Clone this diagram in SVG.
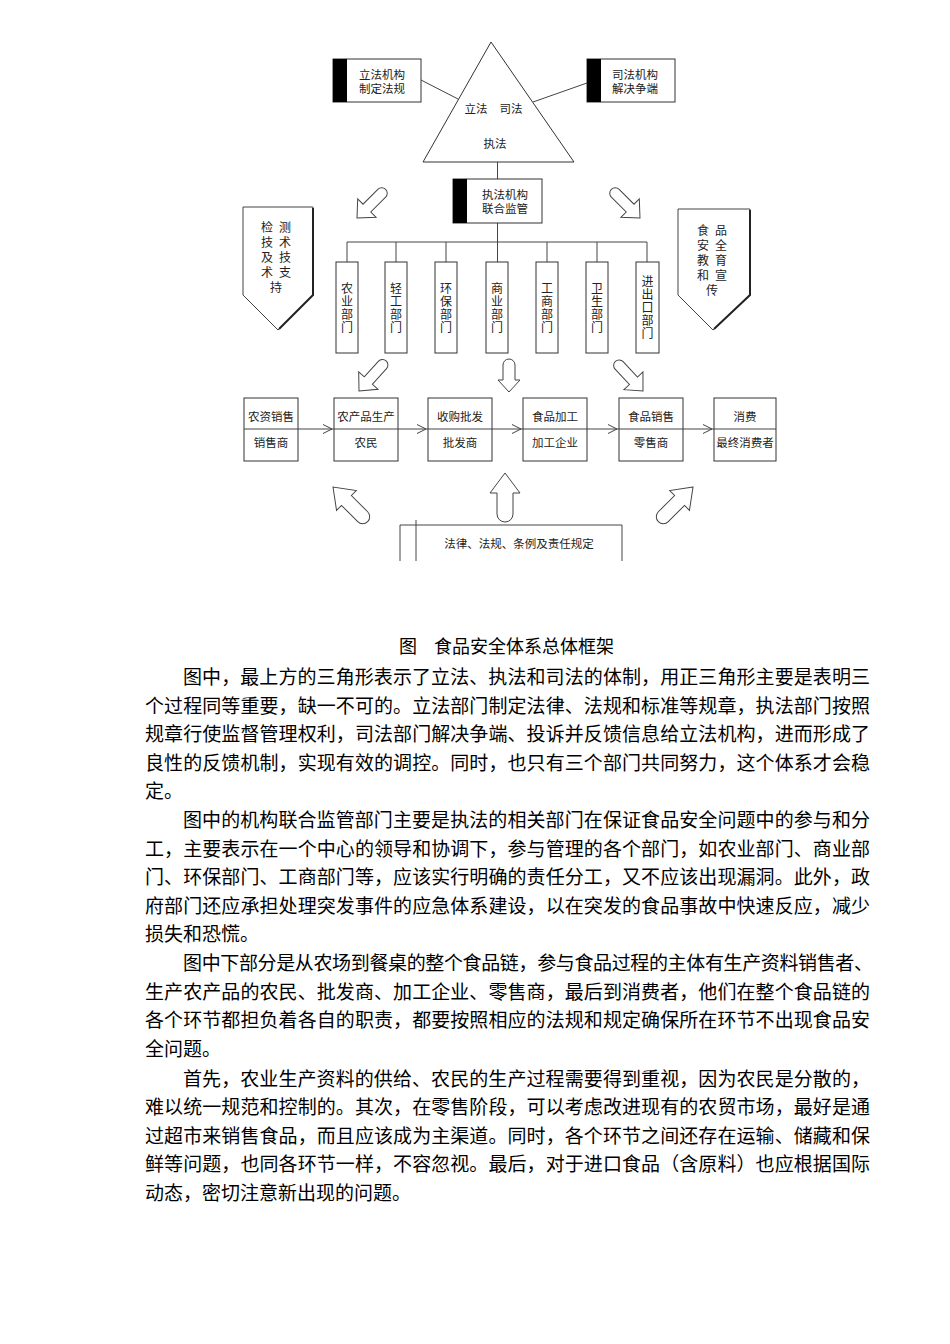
<svg xmlns="http://www.w3.org/2000/svg" width="950" height="1344" viewBox="0 0 950 1344">
<style>
.ln{stroke:#444;stroke-width:1;fill:none}
.box{fill:#fff;stroke:#333;stroke-width:1}
.bar{fill:#000}
.sh{stroke:#222;stroke-width:2;fill:none}
.arr{fill:#fff;stroke:#444;stroke-width:1}
.t{font-family:"Noto Sans CJK SC","Noto Sans CJK JP",sans-serif;font-size:11.5px;fill:#222;text-anchor:middle;dominant-baseline:central}
.tv{font-family:"Noto Sans CJK SC","Noto Sans CJK JP",sans-serif;font-size:12px;fill:#222;text-anchor:middle;dominant-baseline:central}
.vt{font-family:"Noto Sans CJK SC","Noto Sans CJK JP",sans-serif;font-size:12px;fill:#222;text-anchor:middle;writing-mode:vertical-rl;letter-spacing:1px}
.cap{font-family:"Noto Sans CJK SC","Noto Sans CJK JP",sans-serif;font-size:18px;fill:#000;dominant-baseline:central}
.b{font-family:"Noto Sans CJK SC","Noto Sans CJK JP",sans-serif;font-size:19px;fill:#000;dominant-baseline:central}
</style>
<defs>
<path id="aS" d="M0,0 L-14,-13 L-14,-5.5 L-35,-5.5 A5.5,5.5 0 0 0 -35,5.5 L-14,5.5 L-14,13 Z"/>
<path id="aM" d="M0,0 L-12,-11 L-12,-6 L-27,-6 A6,6 0 0 0 -27,6 L-12,6 L-12,11 Z"/>
<path id="aL" d="M0,0 L-20,-15 L-20,-8 L-41,-8 A8,8 0 0 0 -41,8 L-20,8 L-20,15 Z"/>
<path id="aB" d="M0,0 L-19,-14 L-19,-7 L-42,-7 A7,7 0 0 0 -42,7 L-19,7 L-19,14 Z"/>
<path id="chev" d="M-11,-4.5 L-2,0 L-11,4.5"/>
</defs>
<rect width="950" height="1344" fill="#fff"/>

<g id="connectors">
<line class="ln" x1="421" y1="80" x2="458" y2="99"/>
<line class="ln" x1="533" y1="102" x2="587" y2="83"/>
<line class="ln" x1="497.5" y1="162" x2="497.5" y2="179"/>
<line class="ln" x1="497.5" y1="223" x2="497.5" y2="262"/>
<line class="ln" x1="347" y1="242" x2="647" y2="242"/>
<line class="ln" x1="347" y1="242" x2="347" y2="262"/>
<line class="ln" x1="396" y1="242" x2="396" y2="262"/>
<line class="ln" x1="446" y1="242" x2="446" y2="262"/>
<line class="ln" x1="547" y1="242" x2="547" y2="262"/>
<line class="ln" x1="597" y1="242" x2="597" y2="262"/>
<line class="ln" x1="647" y1="242" x2="647" y2="262"/>
<line class="ln" x1="298" y1="429" x2="334" y2="429"/>
<line class="ln" x1="398" y1="429" x2="428" y2="429"/>
<line class="ln" x1="492" y1="429" x2="523" y2="429"/>
<line class="ln" x1="587" y1="429" x2="619" y2="429"/>
<line class="ln" x1="683" y1="429" x2="714" y2="429"/>
<use href="#chev" class="ln" transform="translate(334,429)"/>
<use href="#chev" class="ln" transform="translate(428,429)"/>
<use href="#chev" class="ln" transform="translate(523,429)"/>
<use href="#chev" class="ln" transform="translate(619,429)"/>
<use href="#chev" class="ln" transform="translate(714,429)"/>
<use href="#aS" class="arr" transform="translate(357,218) rotate(135)"/>
<use href="#aS" class="arr" transform="translate(640,218) rotate(45)"/>
<use href="#aS" class="arr" transform="translate(359,391) rotate(132)"/>
<use href="#aM" class="arr" transform="translate(509,392) rotate(90)"/>
<use href="#aS" class="arr" transform="translate(643,391) rotate(47)"/>
<use href="#aB" class="arr" transform="translate(333,487) rotate(-135)"/>
<use href="#aL" class="arr" transform="translate(505,473) rotate(-90)"/>
<use href="#aB" class="arr" transform="translate(693,487) rotate(-45)"/>
</g>

<g id="triangle">
<path d="M491,42 L574,162 L423,162 Z" fill="#fff" stroke="#333" stroke-width="1"/>
<text class="t" x="476" y="108">立法</text>
<text class="t" x="511" y="108">司法</text>
<text class="t" x="495" y="143">执法</text>
</g>

<g id="legislative">
<rect class="box" x="333" y="59" width="88" height="43"/>
<rect class="bar" x="333" y="59" width="14" height="43"/>
<text class="t" x="382" y="74">立法机构</text>
<text class="t" x="382" y="88">制定法规</text>
</g>

<g id="judicial">
<rect class="box" x="587" y="59" width="88" height="43"/>
<rect class="bar" x="587" y="59" width="14" height="43"/>
<text class="t" x="635" y="74">司法机构</text>
<text class="t" x="635" y="88">解决争端</text>
</g>

<g id="enforcement">
<rect class="box" x="453" y="179" width="89" height="44"/>
<rect class="bar" x="453" y="179" width="14" height="44"/>
<text class="t" x="505" y="194">执法机构</text>
<text class="t" x="505" y="208">联合监管</text>
</g>

<g id="testing">
<path d="M243,207 L313,207 L313,295 L278,330 L243,295 Z" fill="#fff" stroke="#444" stroke-width="1"/>
<path class="sh" d="M313,208 L313,295 L279,329"/>
<text class="tv" x="267" y="226">检</text><text class="tv" x="285" y="226">测</text>
<text class="tv" x="267" y="241">技</text><text class="tv" x="285" y="241">术</text>
<text class="tv" x="267" y="256">及</text><text class="tv" x="285" y="256">技</text>
<text class="tv" x="267" y="271">术</text><text class="tv" x="285" y="271">支</text>
<text class="tv" x="276" y="286">持</text>
</g>

<g id="education">
<path d="M678,209 L750,209 L750,295 L713,330 L678,295 Z" fill="#fff" stroke="#444" stroke-width="1"/>
<path class="sh" d="M750,210 L750,295 L714,329"/>
<text class="tv" x="703" y="229">食</text><text class="tv" x="721" y="229">品</text>
<text class="tv" x="703" y="244">安</text><text class="tv" x="721" y="244">全</text>
<text class="tv" x="703" y="259">教</text><text class="tv" x="721" y="259">育</text>
<text class="tv" x="703" y="274">和</text><text class="tv" x="721" y="274">宣</text>
<text class="tv" x="712" y="289">传</text>
</g>

<g id="dept-agri">
<rect class="box" x="336" y="262" width="22" height="91"/>
<text class="vt" x="347" y="308">农业部门</text>
</g>
<g id="dept-light">
<rect class="box" x="385" y="262" width="22" height="91"/>
<text class="vt" x="396" y="308">轻工部门</text>
</g>
<g id="dept-env">
<rect class="box" x="435" y="262" width="22" height="91"/>
<text class="vt" x="446" y="308">环保部门</text>
</g>
<g id="dept-commerce">
<rect class="box" x="486" y="262" width="22" height="91"/>
<text class="vt" x="497" y="308">商业部门</text>
</g>
<g id="dept-industry">
<rect class="box" x="536" y="262" width="22" height="91"/>
<text class="vt" x="547" y="308">工商部门</text>
</g>
<g id="dept-health">
<rect class="box" x="586" y="262" width="22" height="91"/>
<text class="vt" x="597" y="308">卫生部门</text>
</g>
<g id="dept-import">
<rect class="box" x="636" y="262" width="23" height="91"/>
<text class="vt" x="647.5" y="308">进出口部门</text>
</g>

<g id="chain-1">
<rect class="box" x="244" y="398" width="54" height="63"/>
<line class="ln" x1="244" y1="429" x2="298" y2="429"/>
<text class="t" x="271" y="416">农资销售</text>
<text class="t" x="271" y="442">销售商</text>
</g>
<g id="chain-2">
<rect class="box" x="334" y="398" width="64" height="63"/>
<line class="ln" x1="334" y1="429" x2="398" y2="429"/>
<text class="t" x="366" y="416">农产品生产</text>
<text class="t" x="366" y="442">农民</text>
</g>
<g id="chain-3">
<rect class="box" x="428" y="398" width="64" height="63"/>
<line class="ln" x1="428" y1="429" x2="492" y2="429"/>
<text class="t" x="460" y="416">收购批发</text>
<text class="t" x="460" y="442">批发商</text>
</g>
<g id="chain-4">
<rect class="box" x="523" y="398" width="64" height="63"/>
<line class="ln" x1="523" y1="429" x2="587" y2="429"/>
<text class="t" x="555" y="416">食品加工</text>
<text class="t" x="555" y="442">加工企业</text>
</g>
<g id="chain-5">
<rect class="box" x="619" y="398" width="64" height="63"/>
<line class="ln" x1="619" y1="429" x2="683" y2="429"/>
<text class="t" x="651" y="416">食品销售</text>
<text class="t" x="651" y="442">零售商</text>
</g>
<g id="chain-6">
<rect class="box" x="714" y="398" width="62" height="63"/>
<line class="ln" x1="714" y1="429" x2="776" y2="429"/>
<text class="t" x="745" y="416">消费</text>
<text class="t" x="745" y="442">最终消费者</text>
</g>

<g id="laws">
<path class="ln" d="M400,561 L400,525 L622,525 L622,561"/>
<line class="ln" x1="416" y1="520" x2="416" y2="561"/>
<text class="t" x="519" y="543">法律、法规、条例及责任规定</text>
</g>

<g id="caption">
<text class="cap" x="399" y="645">图</text>
<text class="cap" x="434" y="645">食品安全体系总体框架</text>
</g>

<g id="body">
<text class="b" x="183" y="675" textLength="687" lengthAdjust="spacing">图中，最上方的三角形表示了立法、执法和司法的体制，用正三角形主要是表明三</text>
<text class="b" x="145" y="704" textLength="725" lengthAdjust="spacing">个过程同等重要，缺一不可的。立法部门制定法律、法规和标准等规章，执法部门按照</text>
<text class="b" x="145" y="732" textLength="725" lengthAdjust="spacing">规章行使监督管理权利，司法部门解决争端、投诉并反馈信息给立法机构，进而形成了</text>
<text class="b" x="145" y="761" textLength="725" lengthAdjust="spacing">良性的反馈机制，实现有效的调控。同时，也只有三个部门共同努力，这个体系才会稳</text>
<text class="b" x="145" y="789">定。</text>
<text class="b" x="183" y="818" textLength="687" lengthAdjust="spacing">图中的机构联合监管部门主要是执法的相关部门在保证食品安全问题中的参与和分</text>
<text class="b" x="145" y="847" textLength="725" lengthAdjust="spacing">工，主要表示在一个中心的领导和协调下，参与管理的各个部门，如农业部门、商业部</text>
<text class="b" x="145" y="875" textLength="725" lengthAdjust="spacing">门、环保部门、工商部门等，应该实行明确的责任分工，又不应该出现漏洞。此外，政</text>
<text class="b" x="145" y="904" textLength="725" lengthAdjust="spacing">府部门还应承担处理突发事件的应急体系建设，以在突发的食品事故中快速反应，减少</text>
<text class="b" x="145" y="932">损失和恐慌。</text>
<text class="b" x="183" y="961" textLength="690" lengthAdjust="spacing">图中下部分是从农场到餐桌的整个食品链，参与食品过程的主体有生产资料销售者、</text>
<text class="b" x="145" y="990" textLength="725" lengthAdjust="spacing">生产农产品的农民、批发商、加工企业、零售商，最后到消费者，他们在整个食品链的</text>
<text class="b" x="145" y="1018" textLength="725" lengthAdjust="spacing">各个环节都担负着各自的职责，都要按照相应的法规和规定确保所在环节不出现食品安</text>
<text class="b" x="145" y="1047">全问题。</text>
<text class="b" x="183" y="1077" textLength="687" lengthAdjust="spacing">首先，农业生产资料的供给、农民的生产过程需要得到重视，因为农民是分散的，</text>
<text class="b" x="145" y="1105" textLength="725" lengthAdjust="spacing">难以统一规范和控制的。其次，在零售阶段，可以考虑改进现有的农贸市场，最好是通</text>
<text class="b" x="145" y="1134" textLength="725" lengthAdjust="spacing">过超市来销售食品，而且应该成为主渠道。同时，各个环节之间还存在运输、储藏和保</text>
<text class="b" x="145" y="1162" textLength="725" lengthAdjust="spacing">鲜等问题，也同各环节一样，不容忽视。最后，对于进口食品（含原料）也应根据国际</text>
<text class="b" x="145" y="1191">动态，密切注意新出现的问题。</text>
</g>
</svg>
